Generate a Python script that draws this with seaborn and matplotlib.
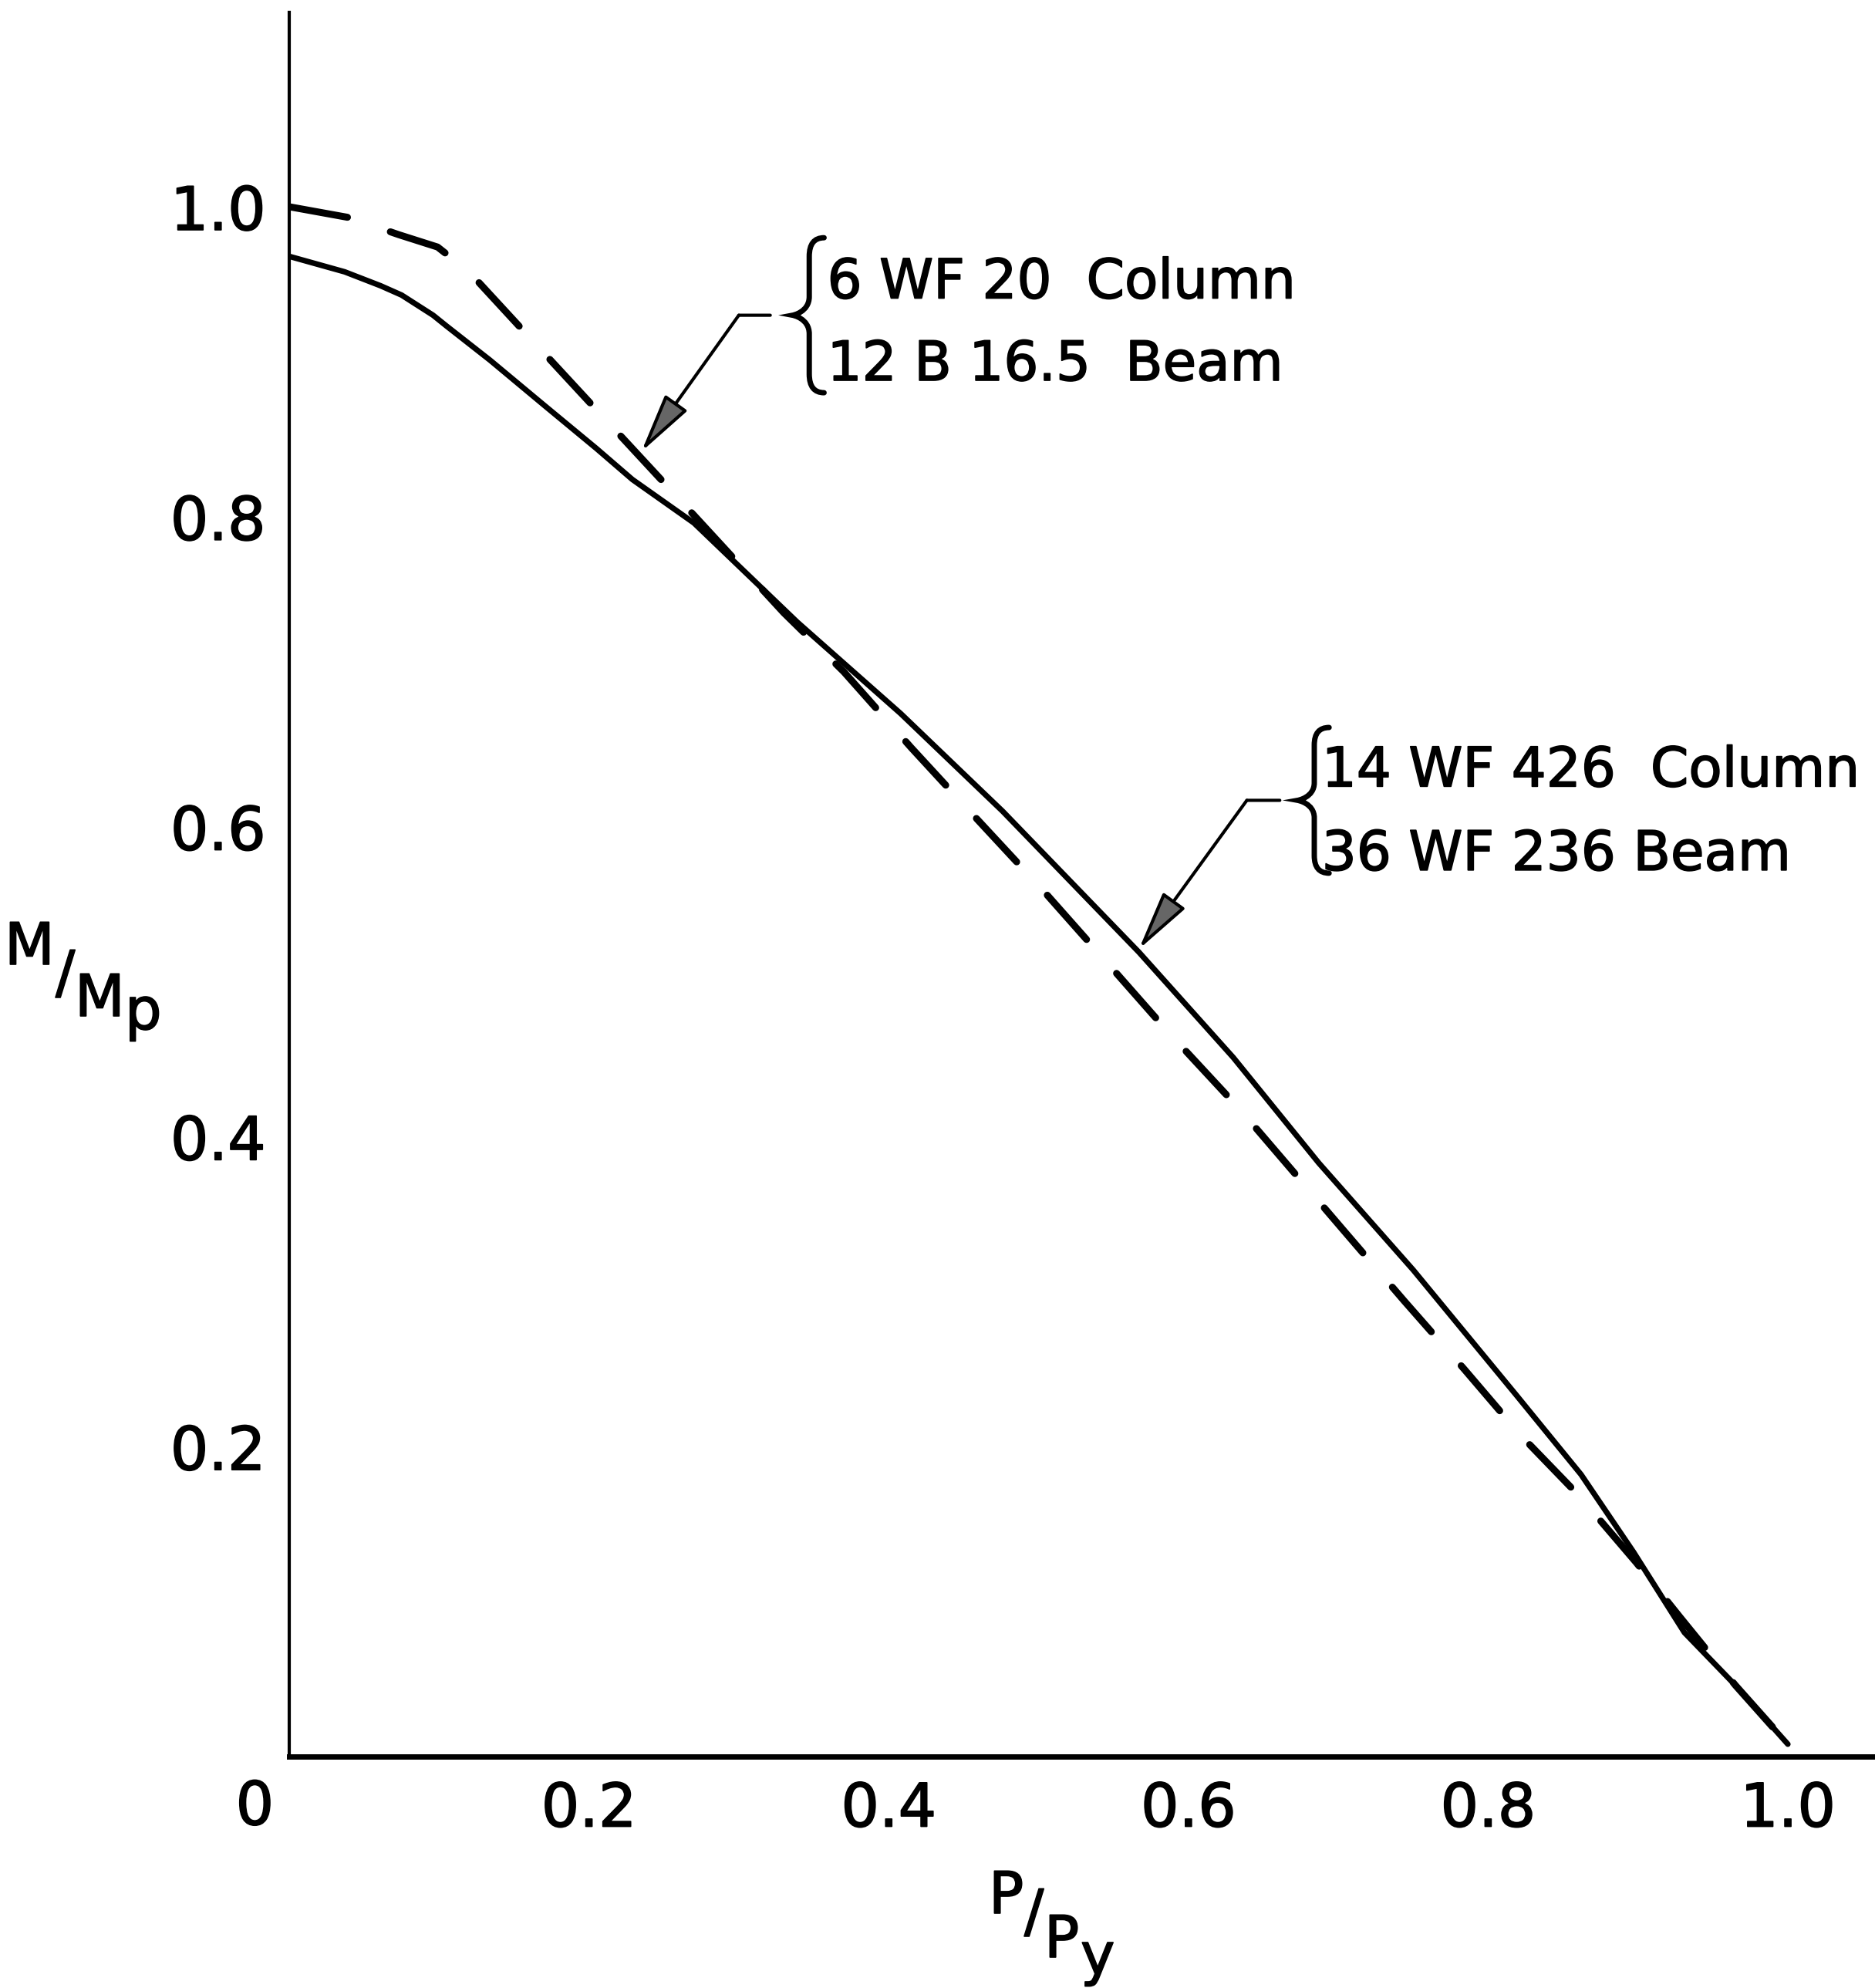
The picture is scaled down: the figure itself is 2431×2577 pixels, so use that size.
import numpy as np
import pandas as pd
import matplotlib.pyplot as plt
import matplotlib.patheffects as pe
import seaborn as sns
from matplotlib.path import Path
from matplotlib.patches import PathPatch
from matplotlib.text import Text

# curves: P/Py (x) vs M/Mp (y)
p_solid = [0.0, 0.037, 0.061, 0.075, 0.096, 0.105, 0.134, 0.170, 0.205, 0.229, 0.270,
           0.339, 0.408, 0.476, 0.567, 0.630, 0.687, 0.750, 0.819, 0.862, 0.897, 0.931,
           0.965, 1.0]
m_solid = [0.968, 0.958, 0.949, 0.943, 0.930, 0.923, 0.901, 0.872, 0.844, 0.824, 0.796,
           0.732, 0.673, 0.610, 0.519, 0.451, 0.383, 0.314, 0.233, 0.182, 0.132, 0.080,
           0.046, 0.008]

p_dash = [0.0, 0.040, 0.073, 0.099, 0.120, 0.161, 0.205, 0.250, 0.290, 0.330, 0.370,
          0.415, 0.455, 0.502, 0.546, 0.587, 0.634, 0.704, 0.744, 0.784, 0.822, 0.861,
          0.899, 0.928, 0.965, 1.0]
m_dash = [1.0, 0.993, 0.982, 0.974, 0.958, 0.915, 0.869, 0.822, 0.780, 0.738, 0.700,
          0.651, 0.609, 0.560, 0.512, 0.467, 0.418, 0.339, 0.294, 0.250, 0.207, 0.168,
          0.125, 0.090, 0.046, 0.008]

ticks = [0.2, 0.4, 0.6, 0.8, 1.0]
tick_labels = ["0.2", "0.4", "0.6", "0.8", "1.0"]

upper_label = ["6 WF 20  Column", "12 B 16.5  Beam"]
lower_label = ["14 WF 426  Column", "36 WF 236 Beam"]

sns.set_style("white")
plt.rcParams['font.family'] = ['DejaVu Sans']
plt.rcParams['text.color'] = 'black'
plt.rcParams['axes.labelcolor'] = 'black'
plt.rcParams['xtick.color'] = 'black'
plt.rcParams['ytick.color'] = 'black'

W, H = 2431, 2577
fig = plt.figure(figsize=(W / 100, H / 100), dpi=100)
fig.patch.set_facecolor("white")
ax = fig.add_axes([375 / W, 1 - 2277 / H, (W - 375) / W, (2277 - 16) / H])

df_solid = pd.DataFrame({"P": p_solid, "M": m_solid})
df_dash = pd.DataFrame({"P": p_dash, "M": m_dash})
sns.lineplot(data=df_solid, x="P", y="M", ax=ax, color="black", lw=5.2,
             estimator=None, sort=False, solid_capstyle="round",
             solid_joinstyle="round")
sns.lineplot(data=df_dash, x="P", y="M", ax=ax, color="black", lw=6.5,
             estimator=None, sort=False, linestyle=(0, (8.5, 6.5)),
             dash_capstyle="round")

ax.set_xlim(0, (W - 375) / 1943)
ax.set_ylim(0, (2277 - 16) / 2009)
ax.set_xticks(ticks)
ax.set_xticklabels(tick_labels)
ax.set_yticks(ticks)
ax.set_yticklabels(tick_labels)
ax.set_xlabel("")
ax.set_ylabel("")
ax.tick_params(axis="both", direction="in", length=32, width=3, labelsize=56,
               pad=22, colors="black")
for s in ["top", "right"]:
    ax.spines[s].set_visible(False)
ax.spines["bottom"].set_linewidth(5)
ax.spines["left"].set_linewidth(3)
ax.spines["bottom"].set_color("black")
ax.spines["left"].set_color("black")
ax.text(-0.023, -0.014, "0", fontsize=56, ha="center", va="top", clip_on=False)


def brace(x_tip, x_back, y_lo, y_hi):
    y_mid = (y_lo + y_hi) / 2
    h = y_hi - y_lo
    w = x_back - x_tip
    verts = [(x_back + w * 0.9, y_hi),
             (x_back, y_hi), (x_back, y_hi - h * 0.12),
             (x_back, y_mid + h * 0.12),
             (x_back, y_mid + h * 0.02), (x_tip, y_mid), (x_tip, y_mid),
             (x_tip, y_mid), (x_back, y_mid - h * 0.02), (x_back, y_mid - h * 0.12),
             (x_back, y_lo + h * 0.12),
             (x_back, y_lo), (x_back + w * 0.9, y_lo)]
    codes = [Path.MOVETO, Path.CURVE3, Path.CURVE3, Path.LINETO,
             Path.CURVE4, Path.CURVE4, Path.CURVE4,
             Path.CURVE4, Path.CURVE4, Path.CURVE4,
             Path.LINETO, Path.CURVE3, Path.CURVE3]
    ax.add_patch(PathPatch(Path(verts, codes), fc="none", ec="black", lw=5,
                           capstyle="round", clip_on=False))


def callout(lines, x_text, y_base, y_step, brace_x, brace_y, lead_x, tip):
    ax.text(x_text, y_base, lines[0], fontsize=51, ha="left", va="baseline")
    ax.text(x_text, y_base - y_step, lines[1], fontsize=51, ha="left", va="baseline")
    brace(*brace_x, *brace_y)
    y_mid = (brace_y[0] + brace_y[1]) / 2
    ax.annotate("", xy=(lead_x[0], y_mid), xytext=(lead_x[1], y_mid),
                arrowprops=dict(arrowstyle="-", lw=3, color="black",
                                shrinkA=0, shrinkB=0))
    ax.annotate("", xy=tip, xytext=(lead_x[0], y_mid),
                arrowprops=dict(arrowstyle="-|>,head_length=2.4,head_width=0.55",
                                mutation_scale=20, lw=3, color="black", fc="0.4",
                                shrinkA=0, shrinkB=0))


callout(upper_label, 0.359, 0.941, 0.053, (0.336, 0.347), (0.880, 0.980),
        (0.300, 0.321), (0.235, 0.842))
callout(lower_label, 0.689, 0.626, 0.054, (0.673, 0.684), (0.570, 0.664),
        (0.639, 0.661), (0.567, 0.521))


def px(X, Y):
    return X / W, 1 - Y / H


# y label  M/Mp
fig.text(*px(6, 1250), "M", fontsize=54, ha="left", va="baseline")
fig.text(*px(72, 1286), "/", fontsize=54, ha="left", va="baseline")
fig.text(*px(97, 1317), "M", fontsize=54, ha="left", va="baseline")
fig.text(*px(162, 1334), "p", fontsize=54, ha="left", va="baseline")

# x label  P/Py
fig.text(*px(1282, 2480), "P", fontsize=54, ha="left", va="baseline")
fig.text(*px(1328, 2503), "/", fontsize=54, ha="left", va="baseline")
fig.text(*px(1354, 2537), "P", fontsize=54, ha="left", va="baseline")
fig.text(*px(1401, 2559), "y", fontsize=54, ha="left", va="baseline")

# heavier strokes, like the hand lettering
for t in fig.findobj(Text):
    if t.get_text():
        t.set_path_effects([pe.withStroke(linewidth=1.2, foreground="black")])

fig.savefig("out.png", dpi=100, facecolor="white")
